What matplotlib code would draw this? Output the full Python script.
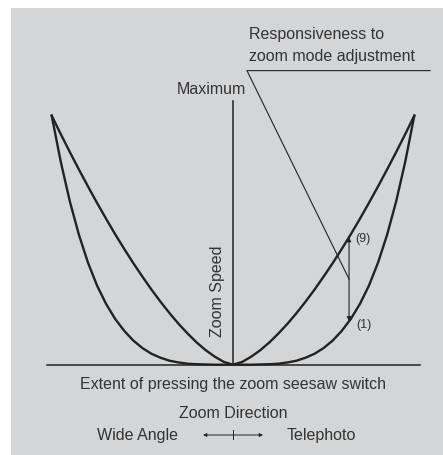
##---------- zoom speed vs seesaw switch chart ----------
import matplotlib
matplotlib.use("Agg")
import numpy as np
import matplotlib.pyplot as plt
from matplotlib.patches import Rectangle

plt.rcParams['font.family'] = ['Liberation Sans', 'DejaVu Sans']

##---------- data (right half; left half is mirrored) ----------
press = [0.00, 0.05, 0.10, 0.15, 0.20, 0.25, 0.30, 0.35, 0.40, 0.45, 0.50,
         0.55, 0.60, 0.65, 0.70, 0.75, 0.80, 0.85, 0.90, 0.95, 1.00]
speed_fast = [0.000, 0.011, 0.032, 0.058, 0.089, 0.125, 0.164, 0.207, 0.253, 0.302, 0.354,
              0.408, 0.465, 0.524, 0.586, 0.650, 0.716, 0.784, 0.854, 0.926, 1.000]   # setting (9)
speed_slow = [0.000, 0.000, 0.000, 0.001, 0.002, 0.004, 0.009, 0.016, 0.028, 0.044, 0.067,
              0.097, 0.136, 0.184, 0.244, 0.318, 0.410, 0.522, 0.656, 0.815, 1.000]   # setting (1)
arrow_press = 0.64
arrow_top = 0.512
arrow_bottom = 0.175
leader_corner = (0.077, 1.181)
leader_end_x = 1.087
leader_tip = (0.64, 0.344)
axis_top = 1.06
base_ends = (-1.028, 1.031)

W, H = 443, 456
ink = '#222222'
txt = '#333333'

fig = plt.figure(figsize=(W / 100, H / 100), dpi=100)
fig.patch.set_facecolor('white')

##---------- overlay in pixel coords for background and labels ----------
bg = fig.add_axes([0, 0, 1, 1], zorder=0)
bg.set_xlim(0, W)
bg.set_ylim(H, 0)
bg.axis('off')
bg.add_patch(Rectangle((11, 9), W - 11, H - 9, facecolor='#d4d5d7', edgecolor='none'))

##---------- data axes: x -1..1 -> 51.7..414.3 px, y 0..1 -> 365.7..116.7 px ----------
ax = fig.add_axes([51.7 / W, (H - 365.7) / H, 362.6 / W, 249.0 / H], zorder=1)
ax.set_xlim(-1, 1)
ax.set_ylim(0, 1)
ax.axis('off')
ax.patch.set_alpha(0)

x = np.array(press)
for s in (speed_fast, speed_slow):
    y = np.array(s)
    ax.plot(np.concatenate([-x[::-1], x]), np.concatenate([y[::-1], y]),
            color=ink, lw=1.7, clip_on=False, solid_joinstyle='round')

ax.plot(base_ends, [0, 0], color=ink, lw=1.1, clip_on=False)
ax.plot([0, 0], [0, axis_top], color=ink, lw=1.1, clip_on=False)

# leader line for the responsiveness label
ax.plot([leader_end_x, leader_corner[0], leader_tip[0]],
        [leader_corner[1], leader_corner[1], leader_tip[1]],
        color=ink, lw=0.8, clip_on=False)

ax.annotate('', xy=(arrow_press, arrow_bottom), xytext=(arrow_press, arrow_top),
            arrowprops=dict(arrowstyle='<|-|>', color=ink, lw=0.8,
                            mutation_scale=6, shrinkA=0, shrinkB=0))

##---------- texts ----------
fs = 11.5
bg.text(211, 89, 'Maximum', ha='center', va='center', fontsize=fs, color=txt)
bg.text(249, 35, 'Responsiveness to', ha='left', va='center', fontsize=fs, color=txt)
bg.text(249, 57, 'zoom mode adjustment', ha='left', va='center', fontsize=fs, color=txt)
bg.text(355, 239, '(9)', ha='left', va='center', fontsize=9, color=txt)
bg.text(356, 325, '(1)', ha='left', va='center', fontsize=9, color=txt)
bg.text(218, 291, 'Zoom Speed', ha='center', va='center', rotation=90, fontsize=fs, color=txt)
bg.text(233, 385, 'Extent of pressing the zoom seesaw switch', ha='center', va='center',
        fontsize=fs, color=txt)
bg.text(233, 414, 'Zoom Direction', ha='center', va='center', fontsize=fs, color=txt)
bg.text(97, 436, 'Wide Angle', ha='left', va='center', fontsize=fs, color=txt)
bg.text(287, 436, 'Telephoto', ha='left', va='center', fontsize=fs, color=txt)

# direction arrow with centre tick
bg.annotate('', xy=(203, 436), xytext=(263, 436),
            arrowprops=dict(arrowstyle='<|-|>', color=ink, lw=0.7,
                            mutation_scale=5, shrinkA=0, shrinkB=0))
bg.plot([233, 233], [431.5, 440.5], color=ink, lw=0.7)

fig.savefig('out.png', dpi=100, facecolor=fig.get_facecolor())
